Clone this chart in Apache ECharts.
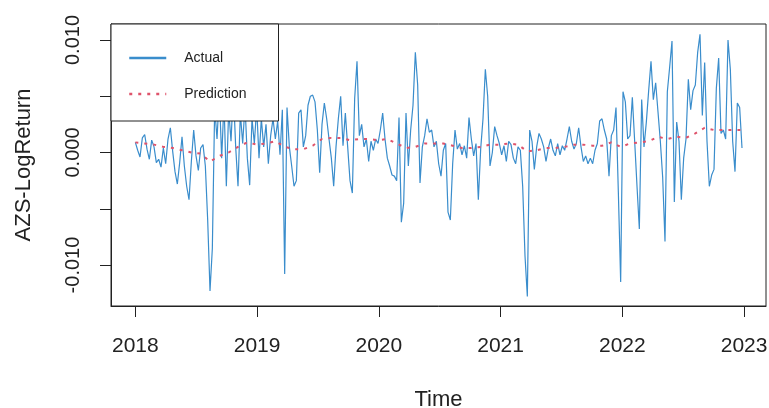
<!DOCTYPE html>
<html>
<head>
<meta charset="utf-8">
<script src="https://cdn.jsdelivr.net/npm/echarts@6/dist/echarts.min.js"></script>
<style>html,body{margin:0;padding:0;background:#fff;}#c{width:769px;height:408px;}</style>
</head>
<body>
<div id="c"></div>
<script>
// Weekly log returns starting at 2018.0 (one value per week)
const startYear = 2018;
const weekStep = 7 / 365.25;
const actual = [
  0.0009, 0.0002, -0.0004, 0.0013, 0.0016, 0.0003, -0.0006, 0.0011, 0.0005, -0.0009,
  -0.0006, -0.0013, 0.0004, -0.0010, 0.0012, 0.0022, 0.0001, -0.0017, -0.0028, -0.0009,
  0.0014, -0.0012, -0.0030, -0.0042, -0.0008, 0.0020, -0.0003, -0.0016, 0.0004, 0.0007,
  -0.0012, -0.0060, -0.0123, -0.0085, 0.0040, 0.0012, 0.0052, -0.0005, 0.0045, -0.0030,
  0.0038, 0.0010, 0.0055, 0.0005, -0.0030, 0.0035, 0.0008, 0.0042, -0.0005, -0.0029,
  0.0030, 0.0008, 0.0040, -0.0005, 0.0030, 0.0005, 0.0025, -0.0010, 0.0015, 0.0030,
  0.0012, 0.0028, -0.0002, 0.0038, -0.0108, 0.0040, 0.0005, -0.0012, -0.0030, -0.0025,
  0.0035, 0.0038, 0.0005, 0.0015, 0.0042, 0.0050, 0.0051, 0.0045, 0.0020, -0.0018,
  0.0025, 0.0044, 0.0030, 0.0012, -0.0005, -0.0030, 0.0005, 0.0030, 0.0050, 0.0006,
  0.0035, 0.0005, -0.0025, -0.0036, 0.0048, 0.0081, 0.0015, 0.0025, 0.0005, 0.0012,
  -0.0008, 0.0010, 0.0002, 0.0012, 0.0008, 0.0020, 0.0035, 0.0012, -0.0005, -0.0012,
  -0.0020, -0.0021, -0.0025, 0.0031, -0.0062, -0.0045, 0.0035, -0.0012, 0.0020, 0.0042,
  0.0089, 0.0060, -0.0027, 0.0005, 0.0015, 0.0030, 0.0018, 0.0020, 0.0005, 0.0010,
  -0.0010, -0.0021, 0.0002, 0.0008, -0.0053, -0.0060, -0.0010, 0.0020, 0.0003, 0.0008,
  -0.0002, 0.0006, -0.0005, 0.0031, 0.0012, -0.0003, 0.0008, -0.0042, 0.0003, 0.0030,
  0.0074, 0.0050, -0.0012, 0.0000, 0.0023, 0.0015, 0.0008, -0.0002, 0.0006, -0.0008,
  0.0010, 0.0007, -0.0005, -0.0010, 0.0005, 0.0002, -0.0030, -0.0092, -0.0128, 0.0020,
  0.0010, -0.0015, 0.0005, 0.0017, 0.0012, 0.0005, -0.0008, 0.0004, 0.0012, 0.0002,
  -0.0003, 0.0008, -0.0002, 0.0006, 0.0002, 0.0012, 0.0023, 0.0010, 0.0003, 0.0008,
  0.0022, 0.0005, -0.0008, -0.0003, -0.0010, -0.0005, -0.0010, 0.0002, 0.0008, 0.0028,
  0.0030, 0.0020, 0.0012, -0.0021, 0.0015, 0.0020, 0.0040, -0.0035, -0.0115, 0.0054,
  0.0045, 0.0012, 0.0015, 0.0049, 0.0010, -0.0030, -0.0068, 0.0047, 0.0005, 0.0027,
  0.0055, 0.0081, 0.0047, 0.0062, 0.0036, 0.0010, -0.0022, -0.0079, 0.0054, 0.0076,
  0.0099, -0.0044, 0.0027, 0.0010, -0.0042, -0.0005, 0.0012, 0.0065, 0.0038, 0.0055,
  0.0060, 0.0089, 0.0105, 0.0033, 0.0080, 0.0010, -0.0030, -0.0020, -0.0015, 0.0057,
  0.0084, 0.0017, 0.0020, 0.0012, 0.0100, 0.0074, 0.0010, -0.0017, 0.0044, 0.0040,
  0.0004
];
// Prediction sampled every 4 weeks
const predEvery = 4;
const prediction = [
  0.0009, 0.0008, 0.0007, 0.0005, 0.0004, 0.0002, 0.0000, -0.0001, -0.0008, -0.0003,
  0.0000, 0.0005, 0.0009, 0.0007, 0.0008, 0.0010, 0.0005, 0.0003, 0.0003, 0.0006,
  0.0012, 0.0013, 0.0013, 0.0011, 0.0012, 0.0012, 0.0011, 0.0012, 0.0008, 0.0004,
  0.0005, 0.0008, 0.0008, 0.0008, 0.0006, 0.0004, 0.0004, 0.0005, 0.0007, 0.0007,
  0.0008, 0.0007, 0.0001, 0.0002, 0.0004, 0.0004, 0.0005, 0.0007, 0.0007, 0.0006,
  0.0006, 0.0009, 0.0005, 0.0008, 0.0009, 0.0010, 0.0014, 0.0012, 0.0014, 0.0013,
  0.0017, 0.0022, 0.0020, 0.0020, 0.0020, 0.0020
];
const xTicks = [2018, 2019, 2020, 2021, 2022, 2023];
const yTicks = [-0.010, -0.005, 0.000, 0.005, 0.010];
const yLabels = [-0.010, 0.000, 0.010];

const actualData = actual.map((v, i) => [startYear + i * weekStep, v]);
const predData = prediction.map((v, k) => [startYear + k * predEvery * weekStep, v]);

const font = 'Liberation Sans, Arial, sans-serif';
const chart = echarts.init(document.getElementById('c'), null, {renderer: 'canvas'});
chart.setOption({
  animation: false,
  backgroundColor: '#fff',
  textStyle: {fontFamily: font},
  grid: {left: 111, right: 3, top: 24, bottom: 102, outerBoundsMode: 'none', containLabel: false,
    show: true, borderColor: '#222', borderWidth: 1, backgroundColor: 'transparent'},
  legend: {
    left: 111, top: 24, orient: 'vertical',
    backgroundColor: '#fff', borderColor: '#222', borderWidth: 1,
    padding: [27, 32, 20, 17],
    itemWidth: 37, itemHeight: 12, itemGap: 22,
    itemStyle: {opacity: 0},
    lineStyle: {width: 2.5},
    textStyle: {fontFamily: font, fontSize: 14, color: '#222', padding: [0, 0, 0, 13]},
    data: ['Actual', 'Prediction']
  },
  xAxis: {
    type: 'value', min: 2017.8, max: 2023.18,
    name: 'Time', nameLocation: 'middle', nameGap: 83,
    nameTextStyle: {fontFamily: font, fontSize: 22, color: '#222'},
    axisLine: {show: true, onZero: false, lineStyle: {color: '#222'}},
    axisTick: {show: true, length: 11, lineStyle: {color: '#222'}, customValues: xTicks},
    axisLabel: {fontFamily: font, fontSize: 21, color: '#222', margin: 30, customValues: xTicks, formatter: v => String(Math.round(v))},
    splitLine: {show: false}
  },
  yAxis: {
    type: 'value', min: -0.01364, max: 0.01142,
    name: 'AZS-LogReturn', nameLocation: 'middle', nameGap: 76,
    nameTextStyle: {fontFamily: font, fontSize: 22, color: '#222'},
    axisLine: {show: true, onZero: false, lineStyle: {color: '#222'}},
    axisTick: {show: true, length: 11, lineStyle: {color: '#222'}, customValues: yTicks},
    axisLabel: {fontFamily: font, fontSize: 20, color: '#222', margin: 28, rotate: 90, customValues: yLabels, formatter: v => v.toFixed(3)},
    splitLine: {show: false}
  },
  series: [
    {
      name: 'Actual', type: 'line', data: actualData, symbol: 'none',
      lineStyle: {color: '#3a8dcc', width: 1.2}, itemStyle: {color: '#3a8dcc'}, z: 2
    },
    {
      name: 'Prediction', type: 'line', data: predData, symbol: 'none', smooth: false,
      lineStyle: {color: '#df536b', width: 2, type: [3, 6]}, itemStyle: {color: '#df536b'}, z: 3
    }
  ]
});
</script>
</body>
</html>
